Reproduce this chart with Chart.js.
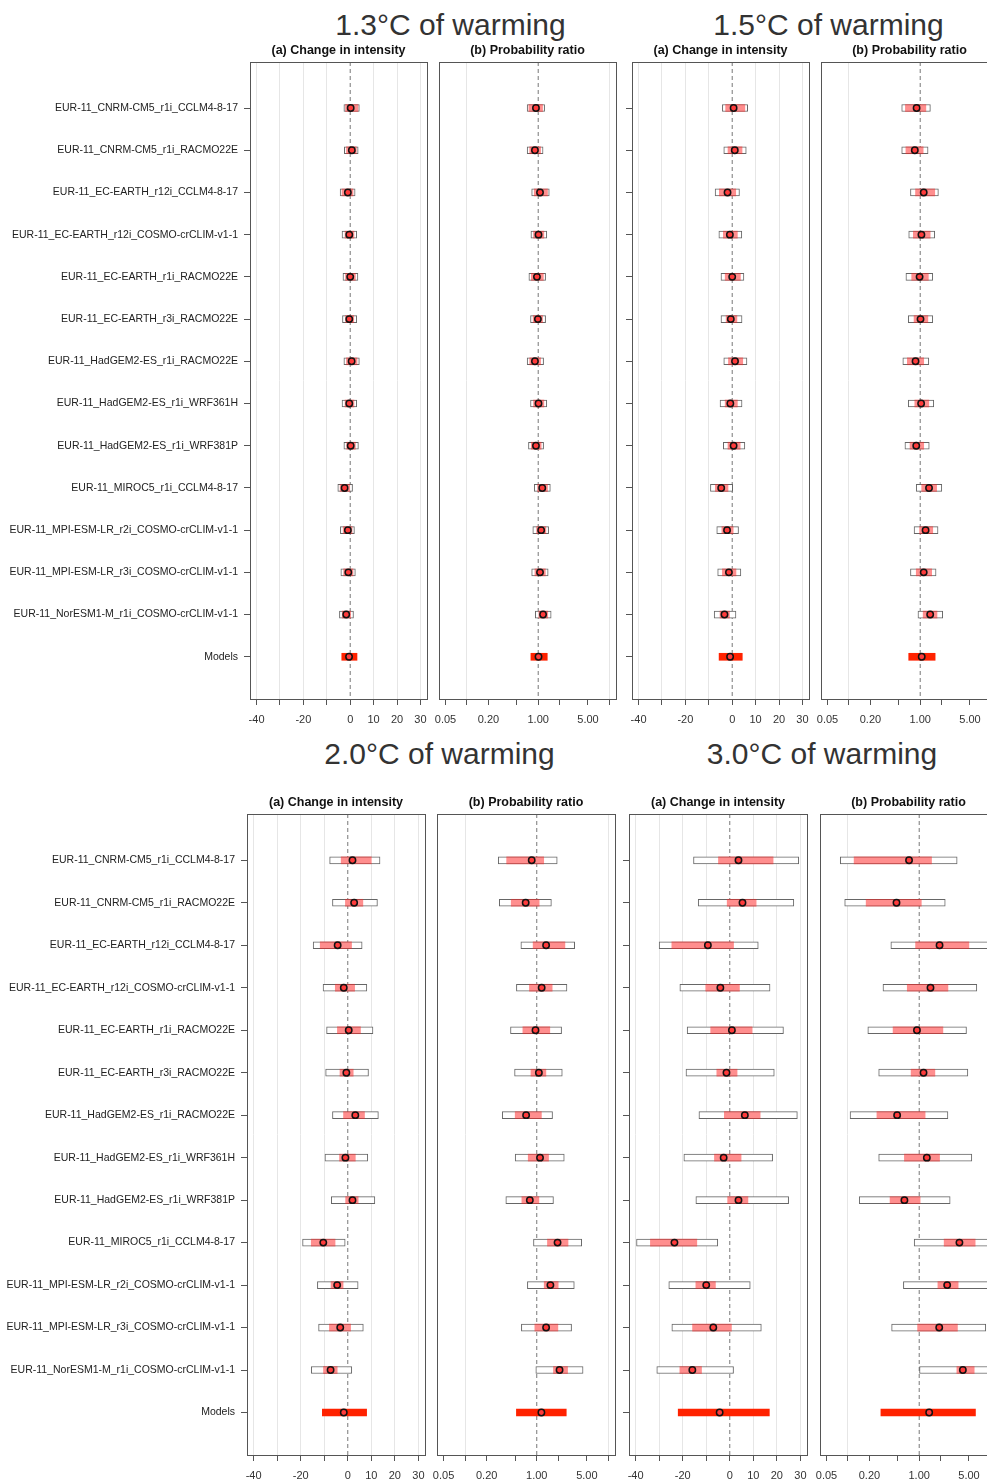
<!DOCTYPE html>
<html>
<head>
<meta charset="utf-8">
<script src="https://cdn.jsdelivr.net/npm/chart.js@4.4.0/dist/chart.umd.min.js"></script>
<style>
  html, body { margin: 0; padding: 0; background: #fff; }
  body { width: 987px; height: 1482px; position: relative; overflow: hidden;
         font-family: "Liberation Sans", Arial, Helvetica, sans-serif; }
  canvas { position: absolute; }
  .title { position: absolute; width: 400px; text-align: center; font-size: 30px;
           line-height: 30px; color: #333; }
  .sub { position: absolute; text-align: center; font-size: 12.5px; line-height: 13px;
         font-weight: bold; color: #111; white-space: nowrap; }
</style>
</head>
<body>
<script>
// rows, top to bottom
const modelNames = [
  'EUR-11_CNRM-CM5_r1i_CCLM4-8-17',
  'EUR-11_CNRM-CM5_r1i_RACMO22E',
  'EUR-11_EC-EARTH_r12i_CCLM4-8-17',
  'EUR-11_EC-EARTH_r12i_COSMO-crCLIM-v1-1',
  'EUR-11_EC-EARTH_r1i_RACMO22E',
  'EUR-11_EC-EARTH_r3i_RACMO22E',
  'EUR-11_HadGEM2-ES_r1i_RACMO22E',
  'EUR-11_HadGEM2-ES_r1i_WRF361H',
  'EUR-11_HadGEM2-ES_r1i_WRF381P',
  'EUR-11_MIROC5_r1i_CCLM4-8-17',
  'EUR-11_MPI-ESM-LR_r2i_COSMO-crCLIM-v1-1',
  'EUR-11_MPI-ESM-LR_r3i_COSMO-crCLIM-v1-1',
  'EUR-11_NorESM1-M_r1i_COSMO-crCLIM-v1-1',
  'Models'
];

const intTicks = [-40, -30, -20, -10, 0, 10, 20, 30];
const intTickLabels = ['-40', '', '-20', '', '0', '10', '20', '30'];
const prTicks = [0.05, 0.1, 0.2, 0.5, 1, 2, 5, 10];
const prTickLabels = ['0.05', '', '0.20', '', '1.00', '', '5.00', ''];
const intLimits = [-42.8, 32.8];
const prLimits = [0.0405, 12.36];
const rowLimits = [-0.09, 15.0];

// 1.3°C
const int13Outer = [[-2.7,3.9],[-2.5,3.4],[-4.3,2.1],[-3.5,2.8],[-3.1,3.3],[-3.3,2.8],[-2.7,3.9],
  [-3.5,2.8],[-2.7,3.5],[-5.3,1.0],[-4.2,1.8],[-4.0,2.2],[-4.6,1.4]];
const int13Inner = [[-2.0,3.3],[-1.6,2.6],[-3.5,1.2],[-2.2,1.6],[-2.0,2.2],[-2.0,1.5],[-1.6,2.9],
  [-2.2,1.6],[-1.5,2.2],[-4.3,-0.2],[-3.0,0.8],[-2.8,1.2],[-3.4,0.2]];
const int13Best = [0.2,0.7,-1.0,-0.4,0.0,-0.4,0.6,-0.4,0.2,-2.4,-1.0,-0.8,-1.7,-0.5];
const int13Synth = [-3.6,2.9];
const pr13Outer = [[0.70,1.23],[0.70,1.17],[0.81,1.43],[0.79,1.32],[0.74,1.27],[0.78,1.27],[0.70,1.19],
  [0.78,1.32],[0.73,1.19],[0.88,1.48],[0.84,1.40],[0.81,1.38],[0.91,1.52]];
const pr13Inner = [[0.74,1.15],[0.76,1.08],[0.88,1.35],[0.86,1.20],[0.80,1.18],[0.85,1.15],[0.76,1.08],
  [0.86,1.20],[0.80,1.10],[0.98,1.35],[0.95,1.28],[0.90,1.26],[1.02,1.36]];
const pr13Best = [0.93,0.90,1.06,1.01,0.96,0.99,0.90,1.01,0.93,1.14,1.10,1.06,1.17,1.01];
const pr13Synth = [0.79,1.34];

// 1.5°C
const int15Outer = [[-4.2,6.6],[-3.6,6.0],[-7.3,3.1],[-5.7,4.1],[-4.8,5.0],[-4.8,4.2],[-3.6,6.3],
  [-5.2,4.2],[-3.8,5.4],[-9.3,0.2],[-6.6,2.7],[-6.2,3.7],[-7.7,1.6]];
const int15Inner = [[-2.8,5.4],[-1.8,4.2],[-5.5,1.5],[-3.8,2.2],[-3.0,3.5],[-2.6,2.0],[-1.6,4.5],
  [-3.0,2.2],[-1.8,3.4],[-7.2,-1.8],[-4.4,0.4],[-4.2,1.6],[-5.2,-1.2]];
const int15Best = [0.6,1.1,-2.0,-1.0,0.0,-0.6,1.2,-0.8,0.6,-4.7,-2.2,-1.4,-3.3,-0.9];
const int15Synth = [-5.6,4.3];
const pr15Outer = [[0.55,1.39],[0.55,1.29],[0.73,1.80],[0.69,1.60],[0.63,1.50],[0.68,1.50],[0.57,1.32],
  [0.68,1.55],[0.61,1.34],[0.88,2.01],[0.82,1.78],[0.73,1.67],[0.93,2.07]];
const pr15Inner = [[0.62,1.20],[0.63,1.10],[0.86,1.60],[0.80,1.38],[0.76,1.30],[0.82,1.28],[0.66,1.12],
  [0.84,1.32],[0.72,1.12],[1.05,1.70],[0.98,1.50],[0.88,1.45],[1.10,1.72]];
const pr15Best = [0.89,0.84,1.12,1.04,0.98,1.01,0.86,1.03,0.88,1.33,1.19,1.12,1.38,1.05];
const pr15Synth = [0.69,1.62];

// 2.0°C
const int20Outer = [[-7.7,13.7],[-6.5,12.6],[-14.7,6.1],[-10.5,8.1],[-9.0,10.7],[-9.4,8.8],[-6.5,13.0],
  [-9.7,8.5],[-7.0,11.5],[-19.2,-1.1],[-12.9,4.4],[-12.4,6.6],[-15.5,1.7]];
const int20Inner = [[-2.8,10.0],[-1.0,6.4],[-11.7,1.6],[-5.3,2.9],[-4.4,5.4],[-3.3,2.3],[-1.8,7.1],
  [-3.5,3.2],[-0.9,4.4],[-15.5,-5.4],[-7.1,-2.0],[-7.8,1.2],[-10.3,-4.5]];
const int20Best = [2.0,2.7,-4.3,-1.7,0.4,-0.6,3.2,-1.0,2.0,-10.4,-4.5,-3.2,-7.3,-1.7];
const int20Synth = [-10.8,8.0];
const pr20Outer = [[0.29,1.93],[0.30,1.60],[0.60,3.38],[0.52,2.64],[0.43,2.22],[0.49,2.27],[0.33,1.66],
  [0.50,2.42],[0.37,1.71],[0.90,4.24],[0.74,3.34],[0.61,3.06],[0.97,4.43]];
const pr20Inner = [[0.38,1.25],[0.44,1.08],[0.89,2.47],[0.79,1.64],[0.64,1.52],[0.83,1.34],[0.50,1.16],
  [0.76,1.46],[0.62,1.07],[1.41,2.73],[1.27,1.99],[0.94,1.97],[1.71,2.69]];
const pr20Best = [0.85,0.70,1.35,1.17,0.96,1.07,0.71,1.11,0.80,1.95,1.55,1.35,2.08,1.16];
const pr20Synth = [0.52,2.58];

// 3.0°C
const int30Outer = [[-15.4,29.3],[-13.4,27.2],[-30.0,12.1],[-21.2,17.1],[-18.1,22.8],[-18.6,18.9],[-13.1,28.7],
  [-19.5,18.2],[-14.4,25.0],[-39.6,-5.1],[-25.9,8.7],[-24.6,13.4],[-31.0,1.6]];
const int30Inner = [[-4.8,18.4],[-1.1,11.2],[-24.6,1.6],[-10.2,4.1],[-8.1,9.5],[-5.5,3.1],[-2.3,12.9],
  [-6.5,4.8],[-0.9,7.7],[-33.7,-14.0],[-14.4,-6.1],[-15.8,0.7],[-21.2,-12.0]];
const int30Best = [3.7,5.4,-9.3,-4.0,0.9,-1.4,6.4,-2.6,3.7,-23.5,-10.0,-7.0,-15.9,-4.3];
const int30Synth = [-21.9,16.8];
const pr30Outer = [[0.078,3.41],[0.090,2.32],[0.40,11],[0.31,6.44],[0.19,4.61],[0.27,4.82],[0.107,2.53],
  [0.27,5.48],[0.144,2.72],[0.85,14],[0.60,11],[0.41,8.6],[1.01,15]];
const pr30Inner = [[0.122,1.49],[0.18,1.07],[0.89,4.98],[0.68,2.53],[0.43,2.15],[0.77,1.66],[0.255,1.21],
  [0.62,1.93],[0.39,1.03],[2.24,6.1],[1.83,3.52],[0.95,3.44],[3.38,5.91]];
const pr30Best = [0.72,0.48,1.93,1.44,0.93,1.15,0.49,1.28,0.62,3.67,2.47,1.91,4.10,1.38];
const pr30Synth = [0.29,6.16];

const boxPlugin = {
  id: 'panelBox',
  afterDraw(chart) {
    const { ctx, chartArea: a } = chart;
    ctx.save();
    ctx.strokeStyle = '#555';
    ctx.lineWidth = 1;
    ctx.strokeRect(a.left + 0.5, a.top + 0.5, a.width, a.height);
    ctx.restore();
  }
};

function addText(cls, text, left, top, width) {
  const d = document.createElement('div');
  d.className = cls;
  d.textContent = text;
  d.style.left = left + 'px';
  d.style.top = top + 'px';
  if (width) d.style.width = width + 'px';
  document.body.appendChild(d);
}

function addPanel(box, kind, yMode, outer, inner, best, synth) {
  const padT = 20, padR = 14, xH = 32;
  const padL = yMode === 'none' ? 14 : 0;
  const yW = yMode === 'labels' ? box.l : (yMode === 'ticks' ? 20 : 0);
  const left = box.l - padL - yW;
  const w = box.r - box.l + padL + yW + padR;
  const h = box.b - box.t + padT + xH;

  const canvas = document.createElement('canvas');
  canvas.width = w;
  canvas.height = h;
  canvas.style.left = left + 'px';
  canvas.style.top = (box.t - padT) + 'px';
  canvas.style.width = w + 'px';
  canvas.style.height = h + 'px';
  document.body.appendChild(canvas);

  const isInt = kind === 'int';
  const ticks = isInt ? intTicks : prTicks;
  const tickLabels = isInt ? intTickLabels : prTickLabels;
  const lim = isInt ? intLimits : prLimits;
  const ref = isInt ? 0 : 1;

  const isGrid = v => {
    if (isInt) return v !== 0;
    const l = Math.log10(v);
    return v !== 1 && Math.abs(l - Math.round(l)) < 1e-6;
  };

  new Chart(canvas.getContext('2d'), {
    type: 'bar',
    data: {
      datasets: [
        {
          type: 'line',
          data: [{ x: ref, y: rowLimits[0] }, { x: ref, y: rowLimits[1] }],
          borderColor: '#777',
          borderWidth: 1,
          borderDash: [4, 3],
          pointRadius: 0,
          order: 5
        },
        {
          type: 'bar',
          data: outer.map((r, i) => ({ x: r, y: i + 1 })),
          backgroundColor: '#fff',
          borderColor: '#666',
          borderWidth: 1,
          borderSkipped: false,
          barThickness: 7,
          grouped: false,
          order: 4
        },
        {
          type: 'bar',
          data: inner.map((r, i) => ({ x: r, y: i + 1 })),
          backgroundColor: 'rgba(255, 30, 30, 0.5)',
          borderWidth: 0,
          barThickness: 7,
          grouped: false,
          order: 3
        },
        {
          type: 'bar',
          data: [{ x: synth, y: modelNames.length }],
          backgroundColor: '#ff2200',
          borderWidth: 0,
          barThickness: 7,
          grouped: false,
          order: 2
        },
        {
          type: 'scatter',
          data: best.map((v, i) => ({ x: v, y: i + 1 })),
          pointRadius: 3.2,
          pointBorderWidth: 1.5,
          pointBorderColor: '#111',
          pointBackgroundColor: '#ff3b3b',
          order: 1
        }
      ]
    },
    options: {
      indexAxis: 'y',
      responsive: false,
      animation: false,
      devicePixelRatio: 1,
      layout: { padding: { top: padT, right: padR, left: padL, bottom: 0 } },
      plugins: { legend: { display: false }, tooltip: { enabled: false } },
      scales: {
        x: {
          type: isInt ? 'linear' : 'logarithmic',
          position: 'bottom',
          min: lim[0],
          max: lim[1],
          bounds: 'data',
          beginAtZero: false,
          offset: false,
          afterBuildTicks: s => { s.ticks = ticks.map(v => ({ value: v })); },
          afterFit: s => { s.height = xH; },
          border: { display: false },
          grid: {
            offset: false,
            color: c => (c.tick && isGrid(c.tick.value)) ? '#e6e6e6' : 'rgba(0,0,0,0)',
            tickColor: '#555',
            tickLength: 6,
            lineWidth: 1
          },
          ticks: {
            autoSkip: false,
            maxRotation: 0,
            minRotation: 0,
            padding: 8,
            color: '#333',
            font: { family: '"Liberation Sans", Arial, sans-serif', size: 11 },
            callback: (v, i) => tickLabels[i]
          }
        },
        y: {
          type: 'linear',
          display: yMode !== 'none',
          reverse: true,
          min: rowLimits[0],
          max: rowLimits[1],
          bounds: 'data',
          offset: false,
          afterBuildTicks: s => { s.ticks = modelNames.map((_, i) => ({ value: i + 1 })); },
          afterFit: s => { s.width = yW; },
          border: { display: false },
          grid: {
            offset: false,
            drawOnChartArea: false,
            tickColor: '#555',
            tickLength: 6
          },
          ticks: {
            autoSkip: false,
            padding: 6,
            color: '#222',
            font: { family: '"Liberation Sans", Arial, sans-serif', size: 10.5 },
            callback: (v, i) => yMode === 'labels' ? modelNames[i] : ''
          }
        }
      }
    },
    plugins: [boxPlugin]
  });

  addText('sub', isInt ? '(a) Change in intensity' : '(b) Probability ratio',
    box.l, box.t - 18, box.r - box.l);
}

// top block
const topT = 62, topB = 699;
addText('title', '1.3°C of warming', 250.5, 10);
addText('title', '1.5°C of warming', 628.5, 10);
addPanel({ l: 250, r: 427, t: topT, b: topB }, 'int', 'labels', int13Outer, int13Inner, int13Best, int13Synth);
addPanel({ l: 439, r: 616, t: topT, b: topB }, 'pr', 'none', pr13Outer, pr13Inner, pr13Best, pr13Synth);
addPanel({ l: 632, r: 809, t: topT, b: topB }, 'int', 'ticks', int15Outer, int15Inner, int15Best, int15Synth);
addPanel({ l: 821, r: 998, t: topT, b: topB }, 'pr', 'none', pr15Outer, pr15Inner, pr15Best, pr15Synth);

// bottom block
const botT = 814, botB = 1455;
addText('title', '2.0°C of warming', 239.5, 739);
addText('title', '3.0°C of warming', 622, 739);
addPanel({ l: 247, r: 425, t: botT, b: botB }, 'int', 'labels', int20Outer, int20Inner, int20Best, int20Synth);
addPanel({ l: 437, r: 615, t: botT, b: botB }, 'pr', 'none', pr20Outer, pr20Inner, pr20Best, pr20Synth);
addPanel({ l: 629, r: 807, t: botT, b: botB }, 'int', 'ticks', int30Outer, int30Inner, int30Best, int30Synth);
addPanel({ l: 820, r: 997, t: botT, b: botB }, 'pr', 'none', pr30Outer, pr30Inner, pr30Best, pr30Synth);
</script>
</body>
</html>
